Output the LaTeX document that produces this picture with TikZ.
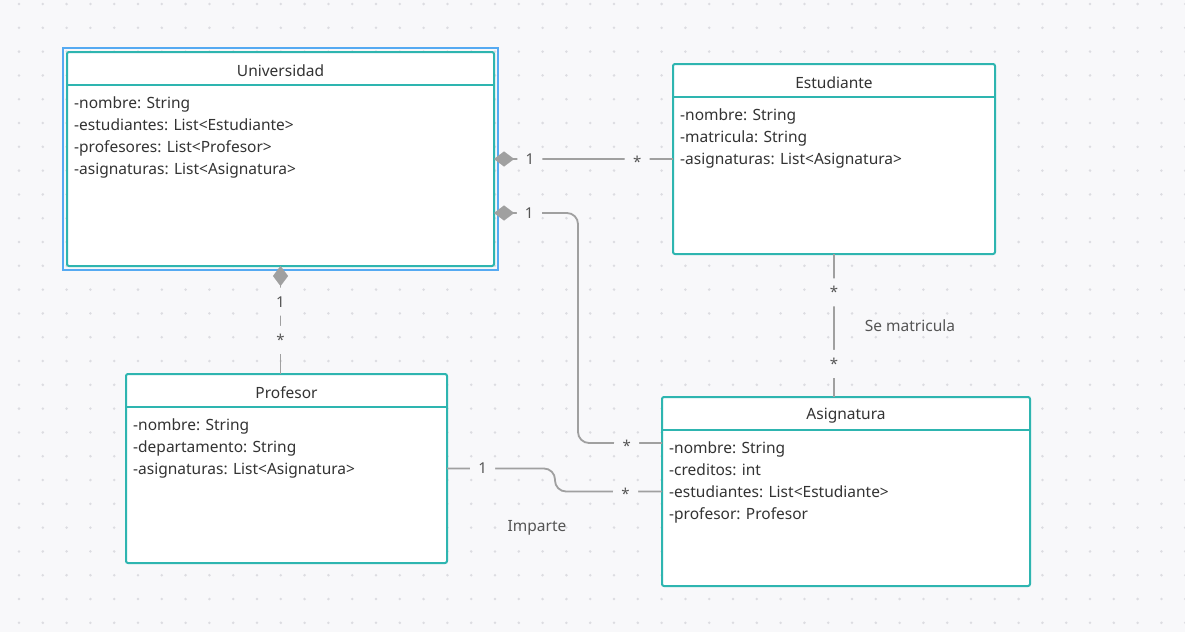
\documentclass[tikz,border=0pt]{standalone}
\usepackage{fontspec}
\setmainfont{Noto Sans}
\usepackage{tikz}
\usetikzlibrary{positioning}
\usetikzlibrary{arrows.meta}
\definecolor{canvas}{HTML}{F8F8FA}
\definecolor{gridpt}{HTML}{DCDCE1}
\definecolor{boxteal}{HTML}{2EB5B0}
\definecolor{selblue}{HTML}{55AAF2}
\definecolor{linkgray}{HTML}{A0A0A0}
\definecolor{txtdark}{HTML}{333333}
\definecolor{txtgray}{HTML}{555555}

\tikzset{
	classbox/.style={draw=boxteal, line width=2pt, fill=white, rounded corners=2pt, inner sep=0pt, outer sep=0pt},
	classname/.style={font=\fontsize{15.5}{18}\selectfont, text=txtdark, minimum height=33pt, inner sep=0pt},
	divider/.style={draw=boxteal, line width=2pt},
	attr/.style={font=\fontsize{15.5}{18}\selectfont, text=txtdark, anchor=base west, inner sep=0pt},
	link/.style={draw=linkgray, line width=1.8pt, rounded corners=11pt},
	owner/.style={{Diamond[length=20pt,width=15pt,line width=0.1pt,fill=linkgray]}-},
	mult/.style={font=\fontsize{15}{18}\selectfont, text=txtgray, fill=canvas, inner sep=0pt, minimum width=25pt, minimum height=28pt},
	manymult/.style={mult, yshift=-2.5pt},
	rolename/.style={font=\fontsize{15.5}{18}\selectfont, text=txtgray},
	selection/.style={draw=selblue, line width=1.5pt},
}

\begin{document}
\begin{tikzpicture}[x=1pt, y=-1pt]
		\fill[canvas] (0,0) rectangle (1185,632);
		\useasboundingbox (0,0) rectangle (1185,632);
		\foreach \i in {0,...,49} {
			\foreach \j in {0,...,26} {
				\fill[gridpt] (19+23.8*\i, 4+23.8*\j) circle (1.4pt);
			}
		}

		\node[classbox, minimum width=427pt, minimum height=214pt] (univ) at (280.5,159) {};
		\node[classbox, minimum width=322pt, minimum height=190pt] (estu) at (834,159) {};
		\node[classbox, minimum width=321pt, minimum height=189pt] (prof) at (286.5,468.5) {};
		\node[classbox, minimum width=368pt, minimum height=189pt] (asig) at (846,491.5) {};
		\draw[selection] ([shift={(-4pt,4pt)}]univ.north west) rectangle ([shift={(4pt,-4pt)}]univ.south east);

		\node[classname, below=1.5pt of univ.north] (univ-title) {Universidad};
		\node[classname, below=1.5pt of estu.north] (estu-title) {Estudiante};
		\node[classname, below=1.5pt of prof.north] (prof-title) {Profesor};
		\node[classname, below=1.5pt of asig.north] (asig-title) {Asignatura};
		\foreach \c in {univ,estu,prof,asig} {
			\draw[divider] ([yshift=-33pt]\c.north west) -- ([yshift=-33pt]\c.north east);
		}

		\foreach \t [count=\i] in {{-nombre: String},{-estudiantes: List<Estudiante>},{-profesores: List<Profesor>},{-asignaturas: List<Asignatura>}} {
			\node[attr] (univ-a\i) at ([xshift=7pt,yshift={-34pt-22pt*\i}]univ.north west) {\t};
		}
		\foreach \t [count=\i] in {{-nombre: String},{-matricula: String},{-asignaturas: List<Asignatura>}} {
			\node[attr] (estu-a\i) at ([xshift=7pt,yshift={-34pt-22pt*\i}]estu.north west) {\t};
		}
		\foreach \t [count=\i] in {{-nombre: String},{-departamento: String},{-asignaturas: List<Asignatura>}} {
			\node[attr] (prof-a\i) at ([xshift=7pt,yshift={-34pt-22pt*\i}]prof.north west) {\t};
		}
		\foreach \t [count=\i] in {{-nombre: String},{-creditos: int},{-estudiantes: List<Estudiante>},{-profesor: Profesor}} {
			\node[attr] (asig-a\i) at ([xshift=7pt,yshift={-34pt-22pt*\i}]asig.north west) {\t};
		}

		\draw[link, owner] (univ.east) -- node[mult, pos=.2] (m1a) {1} node[manymult, pos=.8] (m1b) {*} (estu.west);
		\draw[link, owner] ([yshift=-54pt]univ.east) -- node[mult, pos=.42] (m2a) {1} ++(84,0) |- node[manymult, pos=.79] (m2b) {*} ([yshift=48.5pt]asig.west);
		\draw[link, owner] (univ.south) -- node[mult, pos=.33] (m3a) {1} node[manymult, pos=.66] (m3b) {*} (univ.south |- prof.north);
		\draw[link] (prof.east) -- node[mult, pos=.33] (m4a) {1} ++(108,0) |- node[manymult, pos=.83] (m4b) {*} (asig.west);
		\draw[link] (estu.south) -- node[manymult, pos=.25] (m5a) {*} node[manymult, pos=.75] (m5b) {*} (estu.south |- asig.north);

		\node[rolename] (imparte) at (537,528) {Imparte};
		\node[rolename] (matricula) at (910,326) {Se matricula};
	\end{tikzpicture}
\end{document}
